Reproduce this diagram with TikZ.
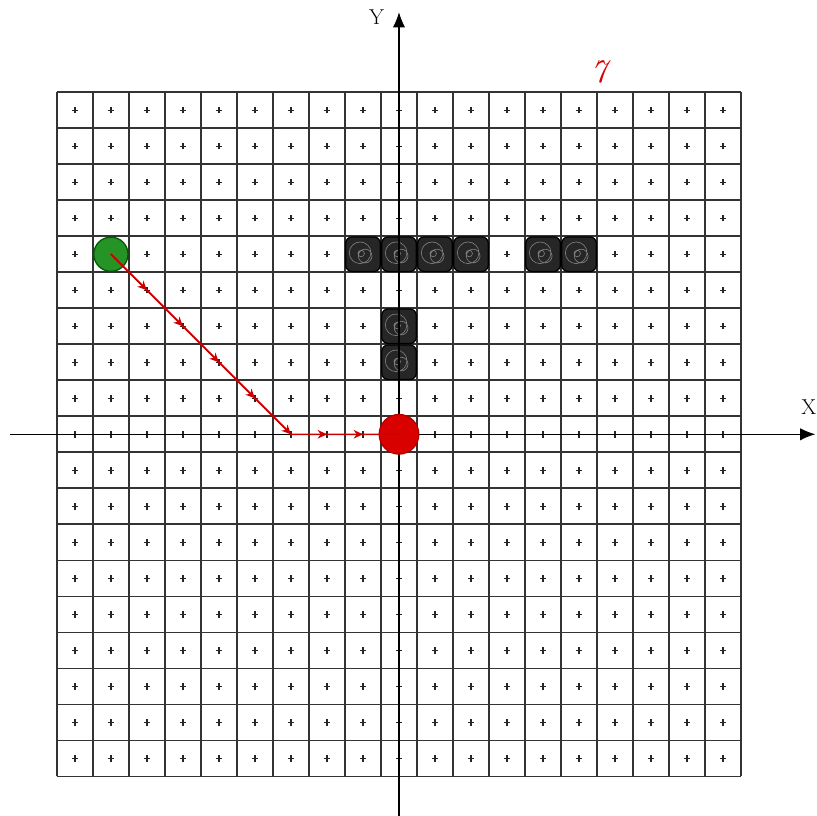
\documentclass[tikz,border=0pt]{standalone}
\usetikzlibrary{arrows.meta}
\tikzset{
  gridline/.style={line width=1.3pt, black!80},
  tick/.style={line width=1pt, black!85},
  axis/.style={line width=0.8pt, -{Latex[length=4.2mm,width=3.4mm]}},
  wall/.style={rectangle, rounded corners=5pt, minimum size=0.96cm, fill=black!85, draw=black, line width=1pt},
  startcell/.style={circle, minimum size=0.95cm, fill=green!50!black!85, draw=green!35!black},
  goalcell/.style={circle, minimum size=1.1cm, fill=red!85!black, draw=red!70!black},
  route/.style={red!80!black, line width=1.2pt},
  steptip/.style={route, -{Stealth[length=2.6mm,width=2.4mm]}}
}
\begin{document}
\begin{tikzpicture}[line width=1pt]
\useasboundingbox (-11.08,-10.6) rectangle (11.58,12.06);
\foreach \i in {-9.5,-8.5,...,9.6} {
  \draw[gridline] (\i,-9.5) -- (\i,9.5);
  \draw[gridline] (-9.5,\i) -- (9.5,\i);
}
\foreach \x in {-9,...,9}
  \foreach \y in {-9,...,9}
    \draw[tick] (\x-0.09,\y) -- (\x+0.09,\y) (\x,\y-0.09) -- (\x,\y+0.09);
\foreach \x/\y [count=\k] in {-1/5, 0/5, 1/5, 2/5, 4/5, 5/5, 0/3, 0/2} {
  \node[wall] (w\k) at (\x,\y) {};
  \draw[black!50, line width=0.5pt] (\x-0.08,\y+0.04) circle (0.3) (\x+0.06,\y-0.05) circle (0.19) (\x-0.05,\y+0.02) circle (0.09);
}
\draw[axis] (0,-10.7) -- (0,11.72);
\draw[axis] (-10.8,0) -- (11.56,0);
\node[font=\fontsize{17}{20}\selectfont] (ylab) at (-0.62,11.58) {Y};
\node[font=\fontsize{17}{20}\selectfont] (xlab) at (11.38,0.75) {X};
\node[text=red!85!black, font=\fontsize{26}{30}\itshape] (num) at (5.55,10.05) {7};
\node[startcell] (start) at (-8,5) {};
\node[goalcell] (goal) at (0,0) {};
\coordinate (s1) at (-7,4);
\coordinate (s2) at (-6,3);
\coordinate (s3) at (-5,2);
\coordinate (s4) at (-4,1);
\coordinate (s5) at (-3,0);
\coordinate (s6) at (-2,0);
\coordinate (s7) at (-1,0);
\draw[route] (start.center) -- (s5) -- (goal.center);
\foreach \p/\q in {start.center/s1, s1/s2, s2/s3, s3/s4, s4/s5, s5/s6, s6/s7}
  \draw[steptip] (\p) -- (\q);
\end{tikzpicture}
\end{document}
